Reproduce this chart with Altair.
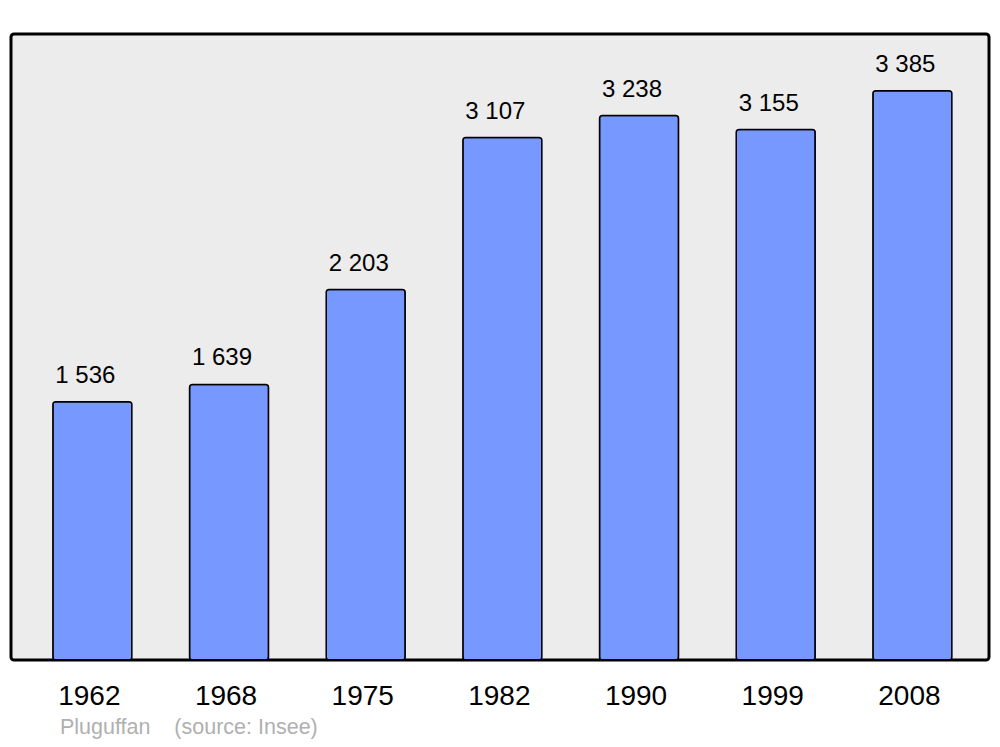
import altair as alt
import pandas as pd

years = ["1962", "1968", "1975", "1982", "1990", "1999", "2008"]
population = [1536, 1639, 2203, 3107, 3238, 3155, 3385]
footer_text = ["Pluguffan\u00a0\u00a0\u00a0\u00a0(source: Insee)"]

df = pd.DataFrame({"year": years, "pop": population})

W, H = 978, 626
FONT = "Liberation Sans"

x = alt.X("year:N", sort=years, axis=None,
          scale=alt.Scale(paddingInner=0.422, paddingOuter=0.289, align=0.53))
y = alt.Y("pop:Q", axis=None, scale=alt.Scale(domain=[0, 3723], nice=False, zero=True))

base = alt.Chart(df)

bars = base.mark_bar(color="#7799ff", stroke="black", strokeWidth=1.5,
                     cornerRadius=3).encode(x=x, y=y)

values = base.transform_calculate(
    lab="replace(format(datum.pop, ','), ',', ' ')"
).mark_text(font=FONT, fontSize=24, dy=-19, dx=-7, baseline="alphabetic",
            color="black").encode(x=x, y=y, text="lab:N")

year_labels = base.mark_text(font=FONT, fontSize=28, baseline="alphabetic", dx=-3,
                             color="black").encode(
    x=x, y=alt.value(671), text="year:N")

footer = alt.Chart(pd.DataFrame({"t": footer_text})).mark_text(
    font=FONT, fontSize=21.5, baseline="alphabetic", align="left",
    color="#b0b0b0").encode(x=alt.value(49), y=alt.value(700), text="t:N")

chart = alt.layer(bars, values, year_labels, footer).properties(
    width=W, height=H,
    background="white",
    autosize=alt.AutoSizeParams(type="none"),
    padding={"left": 3, "top": 26, "right": 3, "bottom": 79},
).configure_view(
    fill="#ececec", stroke="black", strokeWidth=3, cornerRadius=3
)

chart.save("out.html", embed_options={"renderer": "svg", "actions": False})
